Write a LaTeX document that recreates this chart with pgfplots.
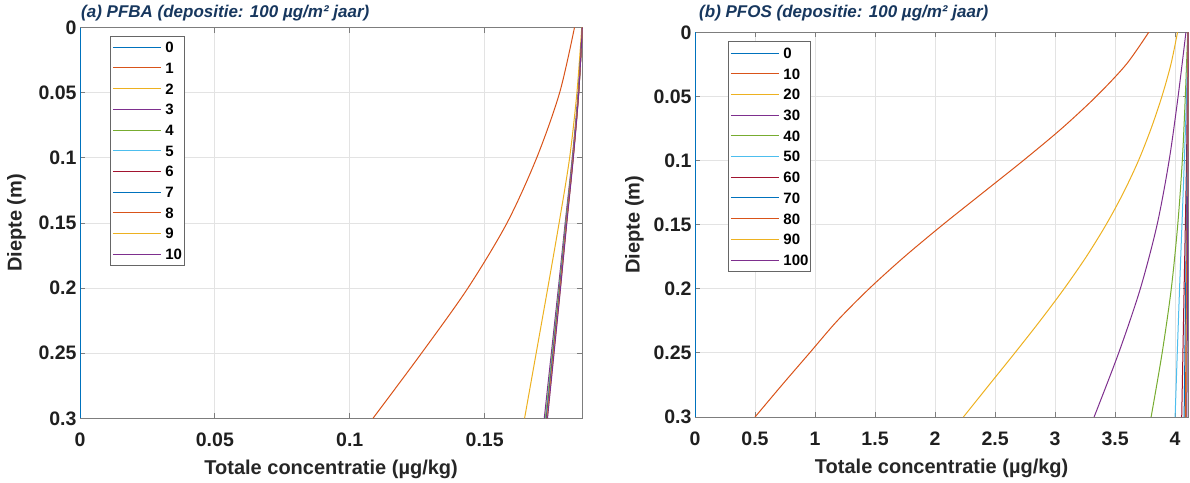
\documentclass[border=0pt]{standalone}
\usepackage{fontspec}
\setmainfont{Liberation Sans}
\usepackage{pgfplots}
\pgfplotsset{compat=1.18}
\definecolor{c1}{rgb}{0,0.447,0.741}
\definecolor{c2}{rgb}{0.850,0.325,0.098}
\definecolor{c3}{rgb}{0.929,0.694,0.125}
\definecolor{c4}{rgb}{0.494,0.184,0.556}
\definecolor{c5}{rgb}{0.466,0.674,0.188}
\definecolor{c6}{rgb}{0.301,0.745,0.933}
\definecolor{c7}{rgb}{0.635,0.078,0.184}
\definecolor{titleblue}{RGB}{23,55,94}
\definecolor{axgray}{RGB}{125,125,125}
\pgfplotsset{
  mystyle/.style={
    scale only axis,
    scaled ticks=false,
    y dir=reverse,
    ymin=0, ymax=0.3,
    ytick={0,0.05,0.1,0.15,0.2,0.25,0.3},
    yticklabels={0,0.05,0.1,0.15,0.2,0.25,0.3},
    clip=false,
    axis line style={axgray, line width=0.8pt},
    every tick/.style={axgray, line width=0.8pt},
    major tick length=5pt,
    tick align=inside,
    grid=major,
    major grid style={line width=0.8pt, color=black!11},
    tick label style={font=\fontsize{19.5}{22}\selectfont\bfseries, text=black!88},
    xticklabel style={anchor=north, inner sep=0pt, yshift=-14.5pt},
    /pgf/number format/assume math mode=true,
    label style={font=\fontsize{20}{24}\selectfont\bfseries, text=black!85},
    xlabel style={at={([yshift=-41.5pt]axis description cs:0.5,0)}, anchor=north, inner sep=0pt},
    title style={font=\fontsize{17}{20}\selectfont\bfseries\itshape, text=titleblue, at={(0,1)}, anchor=south west, inner sep=0pt},
    every axis plot/.append style={line width=1pt},
    xlabel={Totale concentratie (µg/kg)},
    ylabel={Diepte (m)},
    legend style={font=\fontsize{15}{18}\selectfont\bfseries, draw=black!60, line width=0.8pt,
      at={(0,1)}, anchor=north west, cells={anchor=west},
      inner xsep=2pt, inner ysep=6pt, row sep=10pt, column sep=4pt,
      nodes={inner sep=0pt, text height=10.7pt, text depth=0pt}},
    legend image code/.code={\path (0pt,0pt) -- (3pt,0pt); \draw[##1] (3pt,0pt) -- (48pt,0pt);},
  }
}
\begin{document}
\begin{tikzpicture}
\path[use as bounding box] (0,0) rectangle (1190pt,482pt);
% ---------------- panel (a) ----------------
\begin{axis}[mystyle,
  at={(80pt,63.7pt)}, anchor=south west,
  width=502.3pt, height=390.8pt,
  xmin=0, xmax=0.1862,
  xtick={0,0.05,0.1,0.15},
  xticklabels={0,0.05,0.1,0.15},
  ylabel style={at={([xshift=-54pt]axis description cs:0,0.5)}, anchor=south, inner sep=0pt},
  title={(a) PFBA (depositie: 100 µg/m² jaar)},
  title style={xshift=1pt, yshift=0.5pt},
  legend style={xshift=30pt, yshift=-8pt},
]
\addplot[c1] coordinates {(0,0) (0,0.3)};
\addplot[c2, smooth] coordinates {(0.1833,0) (0.1778,0.05) (0.1693,0.1) (0.1583,0.15) (0.1438,0.2) (0.1266,0.25) (0.1086,0.3)};
\addplot[c3, smooth] coordinates {(0.1860,0) (0.1842,0.05) (0.1815,0.1) (0.1776,0.15) (0.1734,0.2) (0.1691,0.25) (0.1648,0.3)};
\addplot[c4, smooth] coordinates {(0.1862,0) (0.18468,0.05) (0.18247,0.1) (0.17985,0.15) (0.17733,0.2) (0.17472,0.25) (0.1721,0.3)};
\addplot[c5, smooth] coordinates {(0.1862,0) (0.18475,0.05) (0.1826,0.1) (0.18005,0.15) (0.1776,0.2) (0.17505,0.25) (0.1725,0.3)};
\addplot[c6, smooth] coordinates {(0.1862,0) (0.18478,0.05) (0.18267,0.1) (0.18015,0.15) (0.17773,0.2) (0.17522,0.25) (0.1727,0.3)};
\addplot[c7, smooth] coordinates {(0.1862,0) (0.18482,0.05) (0.18273,0.1) (0.18025,0.15) (0.17787,0.2) (0.17538,0.25) (0.1729,0.3)};
\addplot[c1, smooth] coordinates {(0.1862,0) (0.18483,0.05) (0.18277,0.1) (0.1803,0.15) (0.17793,0.2) (0.17547,0.25) (0.1730,0.3)};
\addplot[c2, smooth] coordinates {(0.1862,0) (0.18485,0.05) (0.1828,0.1) (0.18035,0.15) (0.1780,0.2) (0.17555,0.25) (0.1731,0.3)};
\addplot[c3, smooth] coordinates {(0.1862,0) (0.18487,0.05) (0.18283,0.1) (0.1804,0.15) (0.17807,0.2) (0.17563,0.25) (0.1732,0.3)};
\addplot[c4, smooth] coordinates {(0.1862,0) (0.18488,0.05) (0.18287,0.1) (0.18045,0.15) (0.17813,0.2) (0.17572,0.25) (0.1733,0.3)};
\legend{0,1,2,3,4,5,6,7,8,9,10}
\end{axis}
% ---------------- panel (b) ----------------
\begin{axis}[mystyle,
  at={(695pt,65pt)}, anchor=south west,
  width=493.3pt, height=384.7pt,
  xmin=0, xmax=4.11,
  xtick={0,0.5,1,1.5,2,2.5,3,3.5,4},
  xticklabels={0,0.5,1,1.5,2,2.5,3,3.5,4},
  ylabel style={at={([xshift=-51pt]axis description cs:0,0.5)}, anchor=south, inner sep=0pt},
  title={(b) PFOS (depositie: 100 µg/m² jaar)},
  title style={xshift=4pt, yshift=5.5pt},
  legend style={xshift=33pt, yshift=-9pt},
]
\addplot[c1] coordinates {(0,0) (0,0.3)};
\addplot[c2, smooth] coordinates {(3.780,0) (3.593,0.025) (3.343,0.05) (3.055,0.075) (2.735,0.1) (2.400,0.125) (2.065,0.15) (1.745,0.175) (1.450,0.2) (1.185,0.225) (0.955,0.25) (0.725,0.275) (0.500,0.3)};
\addplot[c3, smooth] coordinates {(4.020,0) (3.965,0.025) (3.890,0.05) (3.800,0.075) (3.695,0.1) (3.570,0.125) (3.425,0.15) (3.260,0.175) (3.075,0.2) (2.875,0.225) (2.665,0.25) (2.450,0.275) (2.236,0.3)};
\addplot[c4, smooth] coordinates {(4.090,0) (4.025,0.05) (3.950,0.1) (3.850,0.15) (3.710,0.2) (3.530,0.25) (3.325,0.3)};
\addplot[c5, smooth] coordinates {(4.105,0) (4.085,0.05) (4.060,0.1) (4.022,0.15) (3.968,0.2) (3.892,0.25) (3.800,0.3)};
\addplot[c6, smooth] coordinates {(4.108,0) (4.095,0.05) (4.077,0.1) (4.057,0.15) (4.037,0.2) (4.018,0.25) (4.000,0.3)};
\addplot[c7, smooth] coordinates {(4.108,0) (4.095,0.1) (4.075,0.2) (4.055,0.3)};
\addplot[c1, smooth] coordinates {(4.108,0) (4.100,0.1) (4.088,0.2) (4.075,0.3)};
\addplot[c2, smooth] coordinates {(4.108,0) (4.103,0.1) (4.095,0.2) (4.085,0.3)};
\addplot[c3, smooth] coordinates {(4.108,0) (4.105,0.1) (4.100,0.2) (4.093,0.3)};
\addplot[c4, smooth] coordinates {(4.108,0) (4.106,0.1) (4.103,0.2) (4.098,0.3)};
\legend{0,10,20,30,40,50,60,70,80,90,100}
\end{axis}
\end{tikzpicture}
\end{document}
